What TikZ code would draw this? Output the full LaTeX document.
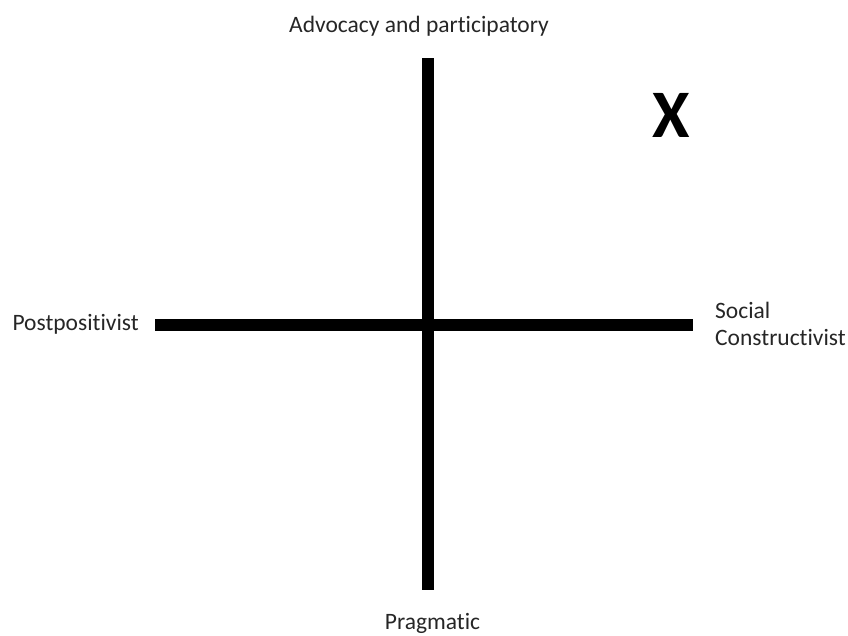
\documentclass[tikz,border=0pt]{standalone}
\usepackage{fontspec}
\setmainfont{Carlito}[Ligatures=CommonOff]
\begin{document}
\begin{tikzpicture}[x=1pt,y=-1pt,
  lbl/.style={inner sep=0pt,font=\fontsize{23.5}{27}\selectfont,text=black!85},
  axis/.style={line width=12pt,black}]
\useasboundingbox (0,0) rectangle (848,635);
\coordinate (top) at (428,58);
\coordinate (bot) at (428,590);
\coordinate (lft) at (155,324.5);
\coordinate (rgt) at (693,324.5);
\draw[axis] (top) -- (bot);
\draw[axis] (lft) -- (rgt);
\node[lbl,anchor=base] (adv) at (419,32) {Advocacy and participatory};
\node[lbl,anchor=base east] (post) at (139,330) {Postpositivist};
\node[lbl,anchor=base west,align=left] (soc) at (715,345) {Social\\Constructivist};
\node[lbl,anchor=base] (prag) at (432.5,629) {Pragmatic};
\node[inner sep=0pt,font=\fontsize{68}{68}\bfseries\selectfont,anchor=base] (x) at (671.5,137) {X};
\end{tikzpicture}
\end{document}
